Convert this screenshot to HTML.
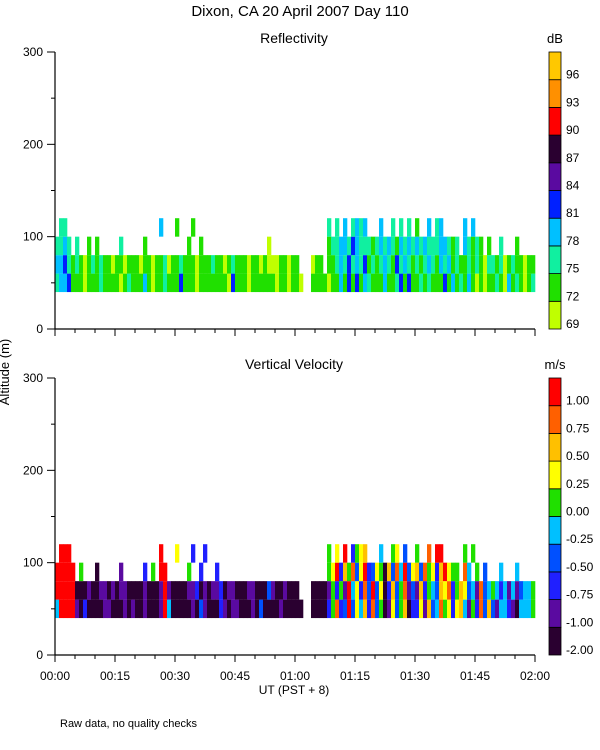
<!DOCTYPE html>
<html><head><meta charset="utf-8"><style>
body{margin:0;background:#fff;}
svg{display:block;font-family:"Liberation Sans",sans-serif;}
</style></head><body>
<svg id="c" width="600" height="750" viewBox="0 0 600 750">
<text x="300" y="16" text-anchor="middle" font-size="15">Dixon, CA 20 April 2007  Day 110</text>
<text x="9" y="372" font-size="13" text-anchor="middle" transform="rotate(-90 9 372)">Altitude (m)</text>
<text x="294" y="694" font-size="12" text-anchor="middle">UT  (PST + 8)</text>
<text x="60" y="727" font-size="11">Raw data, no quality checks</text>
</svg>
<script>
// ---- data ----
const timeMinutes = 120; // columns, one per minute
const gateBottoms = [40, 60, 80, 100];
const xTickLabels = ["00:00","00:15","00:30","00:45","01:00","01:15","01:30","01:45","02:00"];
const yTickValues = [0, 100, 200, 300];
const reflLabels = ["69","72","75","78","81","84","87","90","93","96"];
const reflColors = ["#c0ff00","#20e000","#10f0a0","#00c0ff","#0020ff","#5a0aa0","#2a0030","#ff0000","#ff9000","#ffc800"];
const velLabels = ["-2.00","-1.00","-0.75","-0.50","-0.25","0.00","0.25","0.50","0.75","1.00"];
const velColors = ["#2a0030","#5a0aa0","#2020ff","#0050ff","#00c0ff","#20e000","#ffff00","#ffc000","#ff6000","#ff0000"];
// class index per gate (40-60, 60-80, 80-100, 100-120), one char per minute, 10 minutes per group
const reflGate1 = ["2334111011","1211110121","1131011211","1411101111","1110411101","1111101101","10..111101","1314141321","1131124141","1212111413","1213101011","2103121012"];
const reflGate2 = ["3342121012","1211011011","1011011201","1211101112","1101211101","1010001101","1...011.11","2324232412","1232142321","2123213231","2112121022","1201211011"];
const reflGate3 = ["2232.2..1.","1.....2...","..1.......","...1..1...","..........","...0......","........12","2332432221","2323213232","3232223321","2.32121.1.",".2...1...."];
const reflGate4 = [".22.......","..........","......3...","1...1.....","..........","..........","........2.","2.3.2323..",".3..2.2.2.","1..3.23...","..3.3.....",".........."];
const velGate1 = ["4999910200","0011000101","0010001940","0000103100","0210110001","0300001000","00..000025","8239364728","3501635702","2617348562","6741528373","1442104445"];
const velGate2 = ["9999900010","0110101100","0010001910","0001120101","1201100011","0003100100","0...000015","2519462839","3602735813","1725437682","5763418345","4241413445"];
const velGate3 = ["99999.5...","0.....1...","..2.5.99..","...5..2...","2.........","..........","........56","9275836923","6507384936","7385627965","5.84.5.3..",".4...4...."];
const velGate4 = [".999......","..........","......9...","6...2..2..","..........","..........","........5.","6.9.2567..",".4..56.3..","5..8.99...","..5.5.....",".........."];
// ---- drawing ----
const svg = document.getElementById('c');
const NS = 'http://www.w3.org/2000/svg';
const X0 = 55, X1 = 535;
function xScale(m){ return X0 + (X1 - X0) * m / timeMinutes; }
function mk(tag, attrs){ const e = document.createElementNS(NS, tag); for (const k in attrs) e.setAttribute(k, attrs[k]); svg.appendChild(e); return e; }

function panel(top, bottom, title, gates, colors, labels, unit, pname){
  const yScale = v => bottom - (bottom - top) * v / 300;
  const t = mk('text', {x: 294, y: top - 9, 'font-size': 14, 'text-anchor': 'middle'});
  t.textContent = title;
  
  
  gates.forEach((groups, g) => {
    const row = groups.join('');
    for (let m = 0; m < timeMinutes && m < row.length; m++) {
      const ch = row[m];
      if (ch < '0' || ch > '9') continue;
      const y0 = yScale(gateBottoms[g] + 20), y1 = yScale(gateBottoms[g]);
      const r = mk('rect', {x: xScale(m), y: y0, width: xScale(m + 1) - xScale(m) + 0.3, height: y1 - y0, fill: colors[+ch]});
      
      
    }
  });
  const ya = mk('line', {x1: X0, y1: top, x2: X0, y2: bottom, stroke: '#000', 'stroke-width': 1.2});
  
  
  const xa = mk('line', {x1: X0, y1: bottom, x2: X1, y2: bottom, stroke: '#000', 'stroke-width': 1.2});
  
  
  for (let v = 0; v <= 300; v += 50) {
    const major = v % 100 === 0;
    mk('line', {x1: X0 - (major ? 8 : 4), y1: yScale(v), x2: X0, y2: yScale(v), stroke: '#000'});
  }
  yTickValues.forEach(v => {
    const l = mk('text', {x: 43, y: yScale(v) + 4, 'font-size': 12, 'text-anchor': 'end'});
    l.textContent = v;
    
    
  });
  for (let m = 0; m <= timeMinutes; m += 5) {
    mk('line', {x1: xScale(m), y1: bottom, x2: xScale(m), y2: bottom + (m % 15 === 0 ? 7 : 4), stroke: '#000'});
  }
  const n = colors.length, h = (bottom - top) / n;
  colors.forEach((c, i) => {
    const y = bottom - (i + 1) * h;
    const r = mk('rect', {x: 549, y: y, width: 12, height: h, fill: c, stroke: '#000', 'stroke-width': 0.8});
    
    
    const l = mk('text', {x: 566, y: y + h - 1, 'font-size': 12});
    l.textContent = labels[i];
    
    
  });
  const u = mk('text', {x: 555, y: top - 9, 'font-size': 13, 'text-anchor': 'middle'});
  u.textContent = unit;
  
  
}
panel(52, 329, 'Reflectivity', [reflGate1, reflGate2, reflGate3, reflGate4], reflColors, reflLabels, 'dB', 'reflectivity');
panel(378, 655, 'Vertical Velocity', [velGate1, velGate2, velGate3, velGate4], velColors, velLabels, 'm/s', 'velocity');
xTickLabels.forEach((s, i) => {
  const l = mk('text', {x: xScale(i * 15), y: 680, 'font-size': 12, 'text-anchor': 'middle'});
  l.textContent = s;
  
  
});
</script>
</body></html>
